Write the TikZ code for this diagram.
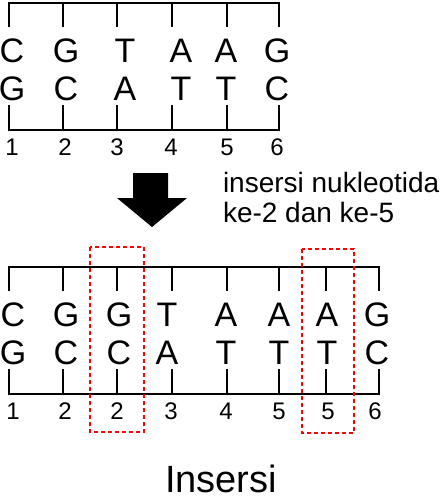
\documentclass[tikz,border=0pt]{standalone}
\usepackage{fontspec}
\setmainfont{Liberation Sans}
\usetikzlibrary{positioning}

\begin{document}
\begin{tikzpicture}[
x=1pt, y=-1pt,
every path/.style={line width=2pt},
basa/.style={inner sep=0, anchor=base, font=\fontsize{34}{34}\selectfont},
nomor/.style={inner sep=0, anchor=base, font=\fontsize{24}{24}\selectfont},
ket/.style={inner sep=0, anchor=base west, font=\fontsize{28}{28}\selectfont},
insbox/.style={draw=red, line width=1.5pt, dash pattern=on 4pt off 3pt}
]
\useasboundingbox (0,0) rectangle (440,499);

% DNA asli
\foreach \i/\x/\lx/\nx/\p/\q/\n in {1/9/12/12/C/G/1, 2/63/66/65/G/C/2, 3/117/125/117/T/A/3,
                                  4/172/181/171/A/T/4, 5/227/226/227/A/T/5, 6/279/277/277/G/C/6}{
  \coordinate (t\i) at (\x,3);
  \coordinate (ta\i) at (\x,27);
  \coordinate (b\i) at (\x,130);
  \coordinate (ba\i) at (\x,105);
  \node[basa] (p\i) at (\lx,62) {\p};
  \node[basa] (q\i) at (\lx,100) {\q};
  \node[nomor] (n\i) at (\nx,155) {\n};
}
\draw (ta1) -- (t1) -- (t6) -- (ta6);
\draw (ba1) -- (b1) -- (b6) -- (ba6);
\foreach \i in {2,...,5}{
  \draw (t\i) -- (ta\i);
  \draw (b\i) -- (ba\i);
}

% panah
\fill (133,173) -- (168,173) -- (168,198) -- (187,198) -- (152,227) -- (117,198) -- (133,198) -- cycle;
\node[ket] (ket1) at (222,192) {insersi nukleotida};
\node[ket] (ket2) at ([yshift=-30pt]ket1.base west) {ke-2 dan ke-5};

% DNA setelah insersi
\foreach \i/\x/\lx/\nx/\p/\q/\n in {1/9/13/13/C/G/1, 2/63/66/65/G/C/2, 3/117/119/117/G/C/2,
                                  4/172/167/171/T/A/3, 5/227/226/226/A/T/4, 6/279/279/279/A/T/5,
                                  7/326/327/328/A/T/5, 8/379/377/375/G/C/6}{
  \coordinate (T\i) at (\x,267);
  \coordinate (TA\i) at (\x,291);
  \coordinate (B\i) at (\x,394);
  \coordinate (BA\i) at (\x,369);
  \node[basa] (P\i) at (\lx,326) {\p};
  \node[basa] (Q\i) at (\lx,364) {\q};
  \node[nomor] (N\i) at (\nx,419) {\n};
}
\draw (TA1) -- (T1) -- (T8) -- (TA8);
\draw (BA1) -- (B1) -- (B8) -- (BA8);
\foreach \i in {2,...,7}{
  \draw (T\i) -- (TA\i);
  \draw (B\i) -- (BA\i);
}
\draw[insbox] (90,247) rectangle (144,432);
\draw[insbox] (302,249) rectangle (354,433);

\node[basa, font=\fontsize{38}{38}\selectfont] (judul) at (221,492) {Insersi};
\end{tikzpicture}
\end{document}
